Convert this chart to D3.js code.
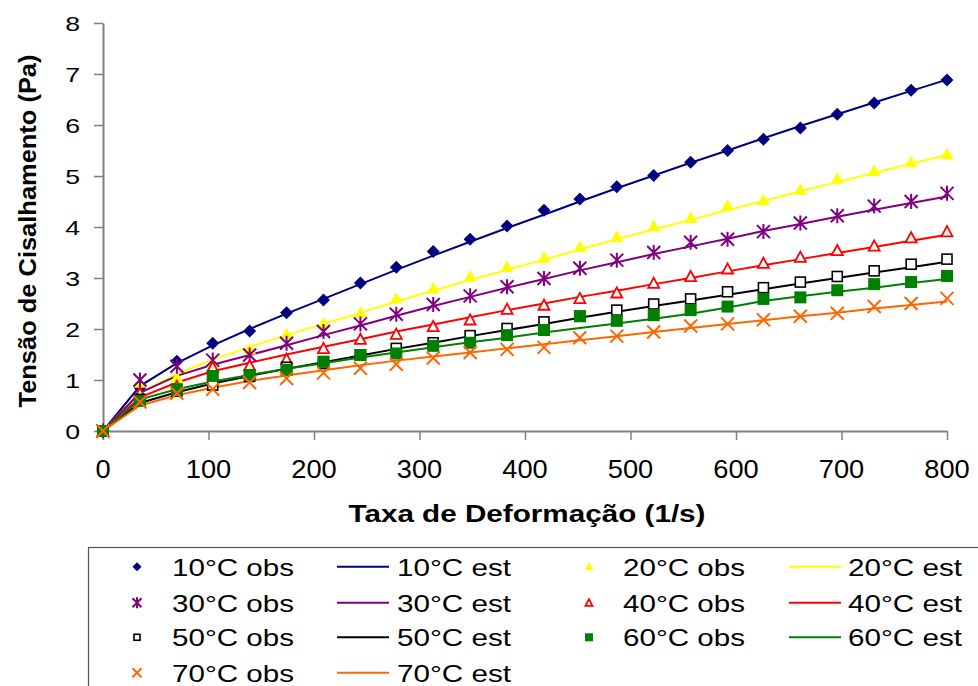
<!DOCTYPE html>
<html><head><meta charset="utf-8">
<script src="https://cdn.jsdelivr.net/npm/d3@7"></script>
<style>html,body{margin:0;padding:0;background:#fff;}svg{display:block;}text{font-family:"Liberation Sans",Arial,sans-serif;fill:#000;}</style>
</head><body>
<svg id="c" width="978" height="686"></svg>
<script>
const rates = [0,35,70,104,139,174,209,244,278,313,348,383,418,452,487,522,557,592,626,661,696,731,766,800];
const xTicks = [0,100,200,300,400,500,600,700,800];
const yTicks = [0,1,2,3,4,5,6,7,8];
const temps = ["10°C","20°C","30°C","40°C","50°C","60°C","70°C"];

const obs10 = [0,0.85,1.37,1.72,1.96,2.32,2.57,2.90,3.21,3.52,3.76,4.02,4.33,4.55,4.79,5.01,5.27,5.50,5.72,5.94,6.21,6.43,6.68,6.88];
const est10 = [0,0.88,1.33,1.68,2.00,2.30,2.59,2.88,3.16,3.44,3.71,3.98,4.24,4.50,4.76,5.01,5.26,5.50,5.74,5.98,6.21,6.44,6.67,6.89];
const obs20 = [0,0.95,1.05,1.33,1.60,1.90,2.11,2.32,2.60,2.80,3.03,3.22,3.40,3.61,3.81,4.02,4.18,4.42,4.53,4.73,4.95,5.10,5.27,5.43];
const est20 = [0,0.75,1.12,1.40,1.65,1.88,2.10,2.32,2.54,2.75,2.96,3.16,3.36,3.56,3.76,3.95,4.14,4.33,4.51,4.70,4.88,5.06,5.24,5.41];
const obs30 = [0,1.00,1.27,1.39,1.49,1.72,1.95,2.10,2.29,2.48,2.65,2.83,2.99,3.19,3.35,3.50,3.70,3.76,3.91,4.08,4.22,4.41,4.50,4.66];
const est30 = [0,0.75,1.08,1.30,1.49,1.68,1.88,2.07,2.26,2.45,2.63,2.81,2.98,3.15,3.31,3.47,3.62,3.77,3.92,4.06,4.20,4.34,4.47,4.60];
const obs40 = [0,0.74,0.88,1.25,1.28,1.41,1.62,1.80,1.90,2.05,2.18,2.39,2.47,2.60,2.71,2.90,3.03,3.18,3.29,3.41,3.54,3.63,3.79,3.91];
const est40 = [0,0.66,0.95,1.17,1.34,1.50,1.65,1.80,1.95,2.09,2.23,2.37,2.50,2.63,2.75,2.88,3.00,3.13,3.25,3.37,3.49,3.61,3.73,3.85];
const obs50 = [0,0.62,0.78,0.90,1.07,1.25,1.33,1.49,1.62,1.73,1.87,2.01,2.14,2.25,2.37,2.49,2.59,2.73,2.81,2.92,3.03,3.14,3.27,3.37];
const est50 = [0,0.55,0.76,0.93,1.08,1.22,1.35,1.48,1.61,1.73,1.86,1.98,2.10,2.22,2.34,2.45,2.56,2.67,2.78,2.89,3.00,3.11,3.21,3.32];
const obs60 = [0,0.59,0.82,1.08,1.10,1.20,1.36,1.49,1.52,1.67,1.73,1.88,1.98,2.25,2.16,2.27,2.37,2.44,2.59,2.62,2.76,2.88,2.92,3.04];
const est60 = [0,0.62,0.82,0.97,1.10,1.22,1.33,1.44,1.54,1.64,1.74,1.83,1.93,2.02,2.11,2.20,2.30,2.42,2.55,2.64,2.73,2.81,2.90,2.98];
const obs70 = [0,0.57,0.74,0.82,0.95,1.03,1.14,1.23,1.31,1.43,1.54,1.60,1.64,1.83,1.86,1.94,2.06,2.10,2.18,2.25,2.31,2.44,2.50,2.60];
const est70 = [0,0.50,0.70,0.85,0.98,1.09,1.19,1.29,1.38,1.46,1.54,1.62,1.70,1.78,1.86,1.94,2.02,2.10,2.17,2.25,2.32,2.40,2.47,2.54];

const obsSeries = [obs10,obs20,obs30,obs40,obs50,obs60,obs70];
const estSeries = [est10,est20,est30,est40,est50,est60,est70];
const markerColors = ["#000080","#FFFF00","#800080","#FF0000","#000000","#008000","#FF6600"];
const lineColors = ["#000080","#FFFF00","#800080","#FF0000","#000000","#008000","#FF6600"];
const markerTypes = ["diamond","triFill","star","triOpen","sqOpen","sqFill","cross"];

const svg = d3.select("#c");
const x = d3.scaleLinear().domain([0,800]).range([103,947]);
const y = d3.scaleLinear().domain([0,8]).range([431,23]);
const axisColor = "#808080";

function stretch(sel, sx){
  sel.each(function(){
    const t = d3.select(this);
    const px = +t.attr("data-x"), py = +t.attr("data-y");
    t.attr("transform", `translate(${px},${py}) scale(${sx},1)`);
  });
}

// Axes
const gx = svg.append("g").attr("transform","translate(0,431)")
  .call(d3.axisBottom(x).tickValues(xTicks).tickSize(9).tickSizeOuter(0).tickFormat(d3.format("d")));
gx.select(".domain").attr("stroke",axisColor).attr("stroke-width",2);
gx.selectAll(".tick line").attr("stroke",axisColor).attr("stroke-width",1.5);
gx.selectAll(".tick text").remove();
const gy = svg.append("g").attr("transform","translate(103,0)")
  .call(d3.axisLeft(y).tickValues(yTicks).tickSize(9).tickSizeOuter(0));
gy.select(".domain").attr("stroke",axisColor).attr("stroke-width",2);
gy.selectAll(".tick line").attr("stroke",axisColor).attr("stroke-width",1.5);
gy.selectAll(".tick text").remove();

// tick labels
svg.append("g").selectAll("text").data(xTicks).join("text")
  .attr("data-x",d=>x(d)).attr("data-y",478)
  .attr("text-anchor","middle").attr("font-size",25).text(d=>d)
  .call(stretch,1.09);
svg.append("g").selectAll("text").data(yTicks).join("text")
  .attr("data-x",80).attr("data-y",d=>y(d)+7.6)
  .attr("text-anchor","end").attr("font-size",21).text(d=>d)
  .call(stretch,1.27);

// axis titles
svg.append("text").attr("x",527).attr("y",522).attr("text-anchor","middle")
  .attr("font-size",23).attr("font-weight","bold")
  .attr("textLength",357).attr("lengthAdjust","spacingAndGlyphs")
  .text("Taxa de Deformação (1/s)");
svg.append("text").attr("transform","translate(36,231) rotate(-90)")
  .attr("text-anchor","middle").attr("font-size",23).attr("font-weight","bold")
  .attr("textLength",353).attr("lengthAdjust","spacingAndGlyphs")
  .text("Tensão de Cisalhamento (Pa)");

// marker drawing
function drawMarker(g, type, color, s){
  const h = s/2;
  switch(type){
    case "diamond":
      g.append("path").attr("d",`M0,${-h}L${h},0L0,${h}L${-h},0Z`).attr("fill",color); break;
    case "triFill":
      g.append("path").attr("d",`M0,${-h}L${h},${h*0.8}L${-h},${h*0.8}Z`).attr("fill",color); break;
    case "triOpen":
      g.append("path").attr("d",`M0,${-h+1}L${h-1},${h*0.8-0.5}L${-h+1},${h*0.8-0.5}Z`).attr("fill","#fff").attr("stroke",color).attr("stroke-width",1.8); break;
    case "sqOpen":
      g.append("rect").attr("x",-h+1.5).attr("y",-h+1.5).attr("width",s-3).attr("height",s-3).attr("fill","#fff").attr("stroke",color).attr("stroke-width",1.6); break;
    case "sqFill":
      g.append("rect").attr("x",-h+0.5).attr("y",-h+0.5).attr("width",s-1).attr("height",s-1).attr("fill",color); break;
    case "star":
      g.append("path").attr("d",`M${-h},${-h}L${h},${h}M${-h},${h}L${h},${-h}M0,${-h-1}L0,${h+1}`).attr("stroke",color).attr("stroke-width",2).attr("fill","none"); break;
    case "cross":
      g.append("path").attr("d",`M${-h},${-h}L${h},${h}M${-h},${h}L${h},${-h}`).attr("stroke",color).attr("stroke-width",2).attr("fill","none"); break;
  }
}

// est lines
const line = d3.line().x((d,i)=>x(rates[i])).y(d=>y(d));
estSeries.forEach((s,k)=>{
  svg.append("path").datum(s).attr("d",line).attr("fill","none")
    .attr("stroke",lineColors[k]).attr("stroke-width",2);
});
// obs markers
obsSeries.forEach((s,k)=>{
  const g = svg.append("g");
  s.forEach((v,i)=>{
    const m = g.append("g").attr("transform",`translate(${x(rates[i])},${y(v)})`);
    drawMarker(m, markerTypes[k], markerColors[k], 13);
  });
});

// legend
svg.append("rect").attr("x",88.5).attr("y",547.5).attr("width",900).attr("height",200)
  .attr("fill","#fff").attr("stroke","#555").attr("stroke-width",1.2);
const rowY = [566.7,602.7,637.3,672.7];
const colMarker = [137,589];
const colText = [172,623];
const colLine = [[337,389],[789,841]];
const colEst = [397,848];
temps.forEach((t,k)=>{
  const col = k%2, row = Math.floor(k/2);
  const cy = rowY[row];
  const m = svg.append("g").attr("transform",`translate(${colMarker[col]},${cy})`);
  drawMarker(m, markerTypes[k], markerColors[k], 9);
  svg.append("text").attr("x",colText[col]).attr("y",cy+8.8).attr("font-size",24.5)
    .attr("textLength",122).attr("lengthAdjust","spacingAndGlyphs").text(t+" obs");
  svg.append("line").attr("x1",colLine[col][0]).attr("x2",colLine[col][1]).attr("y1",cy).attr("y2",cy)
    .attr("stroke",lineColors[k]).attr("stroke-width",2);
  svg.append("text").attr("x",colEst[col]).attr("y",cy+8.8).attr("font-size",24.5)
    .attr("textLength",114).attr("lengthAdjust","spacingAndGlyphs").text(t+" est");
});
</script>
</body></html>
